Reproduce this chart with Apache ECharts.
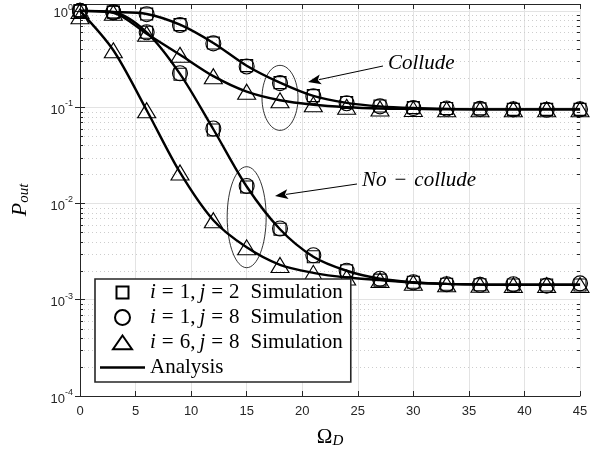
<!DOCTYPE html>
<html><head><meta charset="utf-8">
<script src="https://cdn.jsdelivr.net/npm/echarts@6/dist/echarts.min.js"></script>
<style>html,body{margin:0;padding:0;background:#fff;}#c{width:598px;height:455px;}</style>
</head><body><div id="c"></div>
<script>
// ---- data ----
const omegaD = [0, 3, 6, 9, 12, 15, 18, 21, 24, 27, 30, 33, 36, 39, 42, 45];
const xTicks = [0, 5, 10, 15, 20, 25, 30, 35, 40, 45];

// Simulation markers
const simCollude12 = [1.0, 0.975, 0.93, 0.72, 0.465, 0.27, 0.18, 0.132, 0.112, 0.103, 0.099, 0.097, 0.096, 0.095, 0.095, 0.095];
const simCollude18 = [1.0, 0.97, 0.925, 0.715, 0.46, 0.265, 0.178, 0.13, 0.11, 0.102, 0.098, 0.097, 0.096, 0.095, 0.094, 0.095];
const simCollude68 = [1.0, 0.955, 0.58, 0.35, 0.21, 0.145, 0.118, 0.107, 0.101, 0.097, 0.096, 0.095, 0.095, 0.095, 0.095, 0.095];
const simNoCollude12 = [1.0, 0.97, 0.6, 0.22, 0.058, 0.0148, 0.0054, 0.0028, 0.0020, 0.0016, 0.00152, 0.00145, 0.00143, 0.00142, 0.00142, 0.00142];
const simNoCollude18 = [1.0, 0.97, 0.6, 0.225, 0.06, 0.0152, 0.0055, 0.0029, 0.0020, 0.00165, 0.00152, 0.00145, 0.00143, 0.00145, 0.0014, 0.00148];
const simNoCollude68 = [0.88, 0.39, 0.093, 0.021, 0.0067, 0.0035, 0.0023, 0.0019, 0.0017, 0.0016, 0.0015, 0.00145, 0.00143, 0.00142, 0.00142, 0.00142];

// Analysis curves
const anaCollude1 = [1.0, 0.975, 0.93, 0.72, 0.465, 0.27, 0.18, 0.131, 0.111, 0.102, 0.098, 0.096, 0.095, 0.095, 0.095, 0.095];
const anaCollude6 = [1.0, 0.955, 0.58, 0.35, 0.21, 0.145, 0.118, 0.106, 0.1, 0.097, 0.096, 0.095, 0.095, 0.095, 0.095, 0.095];
const anaNoCollude1 = [1.0, 0.97, 0.6, 0.222, 0.059, 0.015, 0.0054, 0.0028, 0.002, 0.00165, 0.00152, 0.00146, 0.00144, 0.00143, 0.00143, 0.00143];
const anaNoCollude6 = [1.0, 0.39, 0.093, 0.021, 0.0067, 0.0035, 0.0023, 0.0019, 0.0017, 0.0016, 0.0015, 0.00146, 0.00144, 0.00143, 0.00143, 0.00143];

const yMin = 1e-4, yMax = 1.18;
const minorVals = [];
for (let k = -4; k <= -1; k++) for (let m = 2; m <= 9; m++) minorVals.push(m * Math.pow(10, k));

const legendNames = ['i = 1, j = 2 Simulation', 'i = 1, j = 8 Simulation', 'i = 6, j = 8 Simulation', 'Analysis'];
const mathPart = (a, b) => '{it|i}{e|=}{t|' + a + ',}{c| }{it|j}{e|=}{t|' + b + '}{g| }{t|Simulation}';
const legendRich = {
  'i = 1, j = 2 Simulation': mathPart(1, 2),
  'i = 1, j = 8 Simulation': mathPart(1, 8),
  'i = 6, j = 8 Simulation': mathPart(6, 8),
  'Analysis': '{t|Analysis}'
};

const pair = (ys) => omegaD.map((x, i) => [x, ys[i]]);
const AX = '#262626';
const SERIF = '"Liberation Serif", "Times New Roman", serif';
const SANS = '"Liberation Sans", Arial, Helvetica, sans-serif';

function simSeries(name, ys, symbol, size) {
  return {
    type: 'scatter', name: name, data: pair(ys), symbol: symbol, symbolSize: size, z: 2,
    itemStyle: { color: 'rgba(255,255,255,0)', borderColor: '#000', borderWidth: 1.1, opacity: 1 },
    emphasis: { disabled: true }, silent: true
  };
}
function anaSeries(ys) {
  return {
    type: 'line', name: 'Analysis', data: pair(ys), smooth: 0.3, symbol: 'none', z: 2,
    lineStyle: { color: '#000', width: 2.4 }, itemStyle: { color: '#000' }, silent: true
  };
}

const chart = echarts.init(document.getElementById('c'));
const gridL = 80, gridR = 18, gridT = 4, gridB = 59;

const iconSquare = 'path://M0,0M20,15M4,1.5L16,1.5L16,13.5L4,13.5Z';
const iconCircle = 'path://M0,0M20,15M2.5,7.5A7.5,7.5,0,1,1,17.5,7.5A7.5,7.5,0,1,1,2.5,7.5Z';
const iconTri = 'path://M0,0M20,15M10,0.5L19.5,14.3L0.5,14.3Z';
const iconLine = 'path://M0,0M45,15M0,6.3L45,6.3L45,8.7L0,8.7Z';

const FS = 21;
const option = {
  animation: false,
  backgroundColor: '#fff',
  grid: { left: gridL, right: gridR, top: gridT, bottom: gridB, containLabel: false },
  xAxis: [{
    type: 'value', min: 0, max: 45, interval: 5, position: 'bottom',
    name: '{o|\u03A9}{d|D}', nameLocation: 'middle', nameGap: 30,
    nameTextStyle: { rich: {
      o: { fontFamily: SERIF, fontSize: 21, color: '#000' },
      d: { fontFamily: SERIF, fontStyle: 'italic', fontSize: 15, color: '#000', padding: [8, 0, 0, 0] }
    } },
    axisLine: { show: true, lineStyle: { color: AX, width: 1 } },
    axisTick: { show: true, inside: true, length: 5, lineStyle: { color: AX } },
    axisLabel: { color: AX, fontFamily: SANS, fontSize: 13, margin: 9,
      formatter: (v) => xTicks.includes(v) ? String(v) : '' },
    splitLine: { show: true, lineStyle: { color: '#e3e3e3', width: 1 } }
  }, {
    type: 'value', min: 0, max: 45, interval: 5, position: 'top',
    axisLine: { show: true, lineStyle: { color: AX, width: 1 } },
    axisTick: { show: true, inside: true, length: 5, lineStyle: { color: AX } },
    axisLabel: { show: false }, splitLine: { show: false }
  }],
  yAxis: [{
    type: 'log', logBase: 10, min: yMin, max: yMax, position: 'left',
    name: '{p|P}{s|out}', nameLocation: 'middle', nameGap: 48,
    nameTextStyle: { rich: {
      p: { fontFamily: SERIF, fontStyle: 'italic', fontSize: 22, color: '#000' },
      s: { fontFamily: SERIF, fontStyle: 'italic', fontSize: 15, color: '#000', padding: [8, 0, 0, 0] }
    } },
    axisLine: { show: true, lineStyle: { color: AX, width: 1 } },
    axisTick: { show: true, inside: true, length: 5, lineStyle: { color: AX } },
    axisLabel: {
      color: AX, margin: 7,
      formatter: (v) => {
        const l = Math.log10(v), e = Math.round(l);
        if (Math.abs(l - e) > 1e-6) return '';
        return '{b|10}{s|' + e + '}';
      },
      rich: {
        b: { fontFamily: SANS, fontSize: 13, color: AX, padding: [6, 0, 0, 0] },
        s: { fontFamily: SANS, fontSize: 9, color: AX, padding: [0, 0, 7, 0] }
      }
    },
    splitLine: { show: true, lineStyle: { color: '#e3e3e3', width: 1 } }
  }, {
    type: 'log', logBase: 10, min: yMin, max: yMax, position: 'right',
    axisLine: { show: true, lineStyle: { color: AX, width: 1 } },
    axisTick: { show: true, inside: true, length: 5, lineStyle: { color: AX } },
    axisLabel: { show: false }, splitLine: { show: false }
  }],
  legend: {
    orient: 'vertical', left: 95, top: 279,
    data: [
      { name: legendNames[0], icon: iconSquare },
      { name: legendNames[1], icon: iconCircle },
      { name: legendNames[2], icon: iconTri },
      { name: legendNames[3], icon: iconLine, itemStyle: { color: '#000', borderWidth: 0 } }
    ],
    itemWidth: 45, itemHeight: 15, itemGap: 0, itemTextGap: 3, symbolKeepAspect: true,
    backgroundColor: '#fff', borderColor: AX, borderWidth: 1.6, borderRadius: 0,
    padding: [1, 8, 2, 5],
    selectedMode: false,
    formatter: (n) => legendRich[n],
    textStyle: {
      fontFamily: SERIF, fontSize: FS, color: '#000', lineHeight: 25,
      rich: {
        it: { fontFamily: SERIF, fontStyle: 'italic', fontSize: FS, color: '#000', lineHeight: 25 },
        t: { fontFamily: SERIF, fontSize: FS, color: '#000', lineHeight: 25 },
        e: { fontFamily: SERIF, fontSize: FS, color: '#000', lineHeight: 25, padding: [0, 6, 0, 6] },
        c: { fontFamily: SERIF, fontSize: FS, width: 4, lineHeight: 25 },
        g: { fontFamily: SERIF, fontSize: FS, width: 11, lineHeight: 25 }
      }
    }
  },
  series: [
    {
      type: 'custom', name: 'minorGrid', silent: true, z: 1, clip: false,
      data: minorVals.map(v => [0, v]), encode: { x: 0, y: 1 },
      renderItem: (params, api) => {
        const v = api.value(1);
        const L = api.coord([0, v]);
        const R = api.coord([45, v]);
        const y = Math.round(L[1]) + 0.5;
        return { type: 'group', children: [
          { type: 'line', shape: { x1: L[0], y1: y, x2: R[0], y2: y }, style: { stroke: '#cdcdcd', lineWidth: 1, lineDash: [1, 3] } },
          { type: 'line', shape: { x1: L[0], y1: y, x2: L[0] + 3, y2: y }, style: { stroke: AX, lineWidth: 1 } },
          { type: 'line', shape: { x1: R[0] - 3, y1: y, x2: R[0], y2: y }, style: { stroke: AX, lineWidth: 1 } }
        ] };
      }
    },
    anaSeries(anaCollude1),
    anaSeries(anaCollude6),
    anaSeries(anaNoCollude1),
    anaSeries(anaNoCollude6),
    simSeries(legendNames[0], simCollude12, 'rect', 12),
    simSeries(legendNames[1], simCollude18, 'circle', 15),
    simSeries(legendNames[2], simCollude68, 'triangle', [18, 15]),
    simSeries(legendNames[0], simNoCollude12, 'rect', 12),
    simSeries(legendNames[1], simNoCollude18, 'circle', 15),
    simSeries(legendNames[2], simNoCollude68, 'triangle', [18, 15])
  ]
};
chart.setOption(option);

// ---- annotations (ellipses, arrows, labels) ----
function arrow(x1, y1, x2, y2) {
  const dx = x2 - x1, dy = y2 - y1, len = Math.hypot(dx, dy);
  const ux = dx / len, uy = dy / len, px = -uy, py = ux;
  const hl = 13, hw = 5;
  const bx = x2 - ux * hl, by = y2 - uy * hl;
  return [
    { type: 'line', shape: { x1: x1, y1: y1, x2: bx + ux * 2, y2: by + uy * 2 }, style: { stroke: '#000', lineWidth: 1 } },
    { type: 'polygon', shape: { points: [[x2, y2], [bx + px * hw, by + py * hw], [bx + ux * 3, by + uy * 3], [bx - px * hw, by - py * hw]] }, style: { fill: '#000' } }
  ];
}
const px18 = chart.convertToPixel({ xAxisIndex: 0 }, 18);
const px15 = chart.convertToPixel({ xAxisIndex: 0 }, 15);
const pyC = chart.convertToPixel({ yAxisIndex: 0 }, 0.125);
const pyN = chart.convertToPixel({ yAxisIndex: 0 }, 0.0072);
const g = [
  { type: 'ellipse', shape: { cx: px18, cy: pyC, rx: 18, ry: 32.5 }, style: { fill: 'none', stroke: '#000', lineWidth: 0.8 }, z: 10 },
  { type: 'ellipse', shape: { cx: px15, cy: pyN, rx: 19.5, ry: 50.5 }, style: { fill: 'none', stroke: '#000', lineWidth: 0.8 }, z: 10 },
  ...arrow(383, 66, 308, 82).map(e => Object.assign(e, { z: 10 })),
  ...arrow(357, 184, 275, 196).map(e => Object.assign(e, { z: 10 })),
  { type: 'text', left: 388, top: 53, z: 10, style: { text: 'Collude', fontFamily: SERIF, fontStyle: 'italic', fontSize: 21, fill: '#000' } },
  { type: 'text', left: 362, top: 170, z: 10, style: {
      text: '{it|No}{m|\u2212}{it|collude}', fontFamily: SERIF, fontSize: 21, fill: '#000',
      rich: {
        it: { fontFamily: SERIF, fontStyle: 'italic', fontSize: 21, fill: '#000' },
        m: { fontFamily: SERIF, fontSize: 21, fill: '#000', padding: [0, 8, 0, 8] }
      } } }
];
chart.setOption({ graphic: g });
</script>
</body></html>
